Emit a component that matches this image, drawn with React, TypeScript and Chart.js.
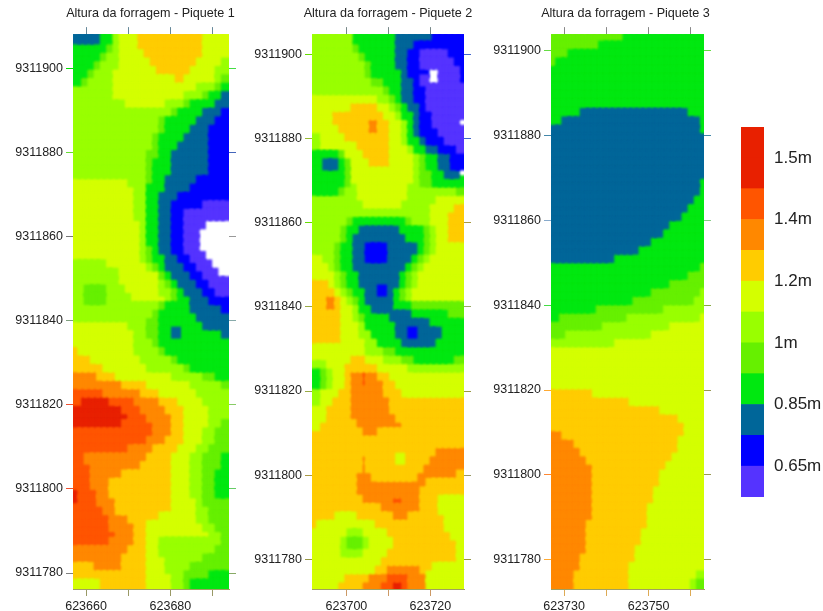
import React, { useEffect, useRef } from "react";
import { Chart, registerables } from "chart.js";

Chart.register(...registerables);

// Height classes: 0 lowest ... 9, A highest, "." = no data. Rows run north to south, run-length coded as level x count.
const levelKeys = ["0", "1", "2", "3", "4", "5", "6", "7", "8", "9", "A"];
const levelColors = ["#5533FF", "#0000FF", "#006699", "#00E810", "#66F000", "#99FF00", "#D4FF00", "#FFCC00", "#FF8800", "#FF5500", "#E82000"];

const piquete1Rows = [
  "2x4 3x2 5 6x3 7x11 6x4", "3x5 4 5 6x3 7x11 6x4", "3x4 4 5x2 6x4 7x10 6x4", "3x3 4 5x3 6x5 7x8 6x4 5",
  "3x2 4 5x3 6x7 7x6 6x4 5x2", "3 4 5x4 6x10 7x2 6x5 5 4", "5x6 6x14 5x3 4 3", "5x6 6x12 5x3 4 3x2 2",
  "5x8 6x7 5x3 4 3x4 2x2", "5x16 4 3x4 2x3 1", "5x14 4 3x5 2x3 1x2", "5x14 4 3x4 2x3 1x3",
  "5x13 4 3x4 2x4 1x3", "5x13 4 3x3 2x5 1x3", "5x12 4x2 3x2 2x6 1x3", "5x12 4 3x3 2x6 1x3",
  "5x12 4 3x3 2x6 1x3", "6x9 5x3 4 3x2 2x5 1x5", "6x10 5x2 3x3 2x4 1x6", "6x10 5x2 3x2 2x3 1x8",
  "6x10 5x2 3x2 2x2 1x5 0x4", "6x10 5x2 3x2 2x2 1x2 0x7", "6x11 5 3x2 2x2 1x2 0x3 .x4", "6x11 5 3x2 2x2 1x2 0x2 .x5",
  "6x11 5 3x2 2x2 1x2 0x2 .x5", "6x11 5 4 3 2x2 1x2 0x2 .x5", "6x11 5 4 3x2 2x2 1x2 0x2 .x4", "5x5 6x7 5 4 3 2x3 1x2 0x2 .x3",
  "5x7 6x7 4 3 2x3 1x2 0x2 .x2", "5x7 6x7 5 4 3 2x3 1x2 0x3", "5x2 4x3 5x3 6x6 5x2 4 3 2x3 1x2 0x2", "5x2 4x3 5x4 6x6 5 4 3x2 2x3 1x3",
  "5x14 4 3x4 2x5 1", "5x13 4 3x6 2x5", "6x9 5x3 4x2 3x7 2x4", "6x10 5x2 4x2 3x2 2 3x7 2",
  "6x10 5x3 4 3x11", "7 6x9 5x4 4 3x10", "7x3 6x8 5x5 4 3x8", "7x5 6x7 5x6 4 3x6",
  "8x4 7x3 6x9 5x5 4x2 3x2", "8x8 7x4 6x7 5x5 4", "9x5 8x6 7x3 6x6 5x5", "9 Ax5 9x4 8x4 7x3 6x4 5x4",
  "Ax8 9x3 8x4 7x3 6x4 5x3", "Ax9 9x3 8x4 7x2 6x4 5x3", "Ax8 9x5 8x3 7x2 6x4 5x2 4", "9x13 8x3 7x2 6x3 5x2 4x2",
  "9x12 8x3 7x3 6x3 5x2 4x2", "9x9 8x4 7x4 6x3 5x2 4x3", "9x2 8x10 7x4 6x3 5x2 4x3 3", "9x3 8x8 7x5 6x3 5x2 4x3 3",
  "9x3 8x5 7x8 6x3 5x2 4x2 3x2", "9x3 8x3 7x10 6x3 5x2 4x2 3x2", "A 9x3 8x2 7x10 6x3 5x2 4x2 3x2", "A 9x3 8x3 7x9 6x4 5 4x4",
  "9x5 8x2 7x9 6x4 5x2 4x3", "9x6 8x3 7x5 6x6 5x2 4x3", "9x6 8x4 7x2 6x9 5x2 4x2", "9x7 8x3 7x2 6x10 5x2 4",
  "9x6 8x4 7x2 6x2 5x10 4", "8x9 7x3 6x2 5x9 4x2", "8x8 7x4 6x3 5x6 4x4", "7x3 8x5 7x4 6x3 5x4 4x6",
  "7x12 6x4 5x2 4x4 3x3", "6x4 7x8 6x4 5x2 4 3x6",
];

const piquete2Rows = [
  "5x7 3x7 2x6 1x5", "5x7 4 3x6 2x3 1x8", "5x8 4 3x5 2x2 1x2 0x4 1x3", "5x9 4 3x4 2x2 1x2 0x5 1x2",
  "5x9 4 3x5 2 1x3 .x2 0x3 1", "5x10 4x2 3x3 2x2 1 0 .x2 0x3 1", "5x12 4 3x2 2x2 1x2 0x6", "6x11 5x2 4 3 2x2 1x2 0x6",
  "6x6 7x5 6x2 5 4 3 2x2 1 0x6", "6x3 7x9 6x2 5 3x2 2 1x2 0x5", "6x3 7x6 8x2 7x2 6x2 5 3 2 1x2 0x4 .", "6x4 7x5 8x2 7x2 6x2 5 3 2 1x3 0x4",
  "5 6x4 7x8 6x2 5 3x2 2 1x3 0x3", "5 6x6 7x6 6x3 5 3x2 2x2 1x3 0", "3x4 4 6x3 7x5 6x4 5 4 3x2 2x2 1x2", "3x2 2x2 3 4 6x3 7x4 6x4 5 4 3x2 2x2 1x2",
  "3x5 4 6x11 5 4x2 3x2 2x2", "3x5 4 6x11 5 4x2 3x5", "3x4 4 5x2 6x9 5x8 4", "5x7 6x9 5x4 6x5",
  "5x8 6x7 5x4 6x4 7x2", "5x19 6x3 7x3", "5x6 4 3x8 4 5x3 6x3 7x3", "5x5 4 3x2 2x6 3x4 4 5 6x2 7x3",
  "5x5 4 3 2x8 3x3 4 5 6x2 7x3", "5x4 4 3x2 2x2 1x3 2x5 3 4 5 6x5", "6x2 5x2 4 3x2 2x2 1x3 2x4 3 4 5 6x6", "6x3 5 4 3x2 2x8 3 4 5 6x7",
  "6x4 5 4 3x2 2x6 3 4 5 6x8", "7x3 6 5 4 3x2 2x6 3 4 5 6x8", "7x4 6 5 4 3x2 2x2 1 2 3 4 5 6x9", "7x2 8x2 7 6 5 4 3 2x4 3 4 5 6x9",
  "7x2 8x2 7 6x2 5 3x2 2x3 3x3 4x9", "7x5 6x2 5 4 3x4 2x3 3x6 4x3", "7x5 6x3 5 3x5 2x5 3x6", "7x5 6x3 5x2 3x4 2x2 1 2x4 3x4",
  "7x5 6x4 5x2 3x4 2x5 3x5", "6x9 5x3 4x2 3x11", "6x6 7x3 6x3 5x3 4x2 3x6 4x2", "5x2 6x3 7x6 6x5 5x9",
  "3 4 5 6x2 7 8x2 9 8x2 7x2 6x12", "3 4 5 6x2 7 8x2 9 8x3 7x2 6x11", "5 6x3 7x2 8x6 7x3 6x10", "5 6x2 7x3 8x7 7x12",
  "6x2 7x4 8x7 7x12", "6x2 7x4 8x8 7x11", "6 7x6 8x8 7x10", "7x8 8x3 7x14",
  "7x25", "7x20 8x5", "7x8 8 7x5 6 7x4 8x6", "7x8 8 7x9 8x7",
  "7x7 8x3 7x7 8x7 7", "7x7 8x12 7x6", "7x7 8x11 7x7", "7x8 8x5 9x2 8x3 7x3 6x4",
  "7x11 8x7 7x3 6x4", "7x4 6x3 7x6 8x3 7x6 6x3", "7 6x9 7x12 6x3", "6x6 5x2 6x4 7x11 6x2",
  "6x5 5 4x2 5 6x4 7x11 6", "6x5 5x3 6x4 7x12 6", "6x11 7x13 6", "6x10 7x2 8x6 7x2 6x5",
  "6x5 7x4 8x3 9x4 8x3 6x6", "6x4 7x4 8x3 9 9 A A 9 8x3 6x6",
];

const piquete3Rows = [
  "4x12 3x13", "4x8 3x17", "4x3 3x22", "4 3x24", "3x25", "3x25", "3x25", "3x25",
  "3x25", "3x5 2x17 3x3", "3x2 2x22 3", "2x24 3", "2x25", "2x25", "2x25", "2x25",
  "2x25", "2x24 3", "2x24 3", "2x23 3x2", "2x22 3x3", "2x21 3x4", "2x19 3x6", "2x18 3x7",
  "2x16 3x9", "2x14 3x11", "2x10 3x15", "3x24 4", "3x22 4x3", "3x19 4x6", "3x16 4x8 5", "3x13 4x10 5x2",
  "3x7 4x11 5x7", "3 4x11 5x12 6", "4x8 5x11 6x6", "4x2 5x14 6x9", "5x10 6x15", "6x25", "6x25", "6x25",
  "6x25", "6x25", "7x7 6x18", "7x13 6x12", "7x18 6x7", "7x21 6x4", "7x22 6x3", "8x2 7x20 6x3",
  "8x4 7x17 6x4", "8x5 7x16 6x4", "8x6 7x14 6x5", "8x7 7x12 6x6", "8x7 7x11 6x7", "8x7 7x11 6x7", "8x7 7x10 6x8", "8x7 7x10 6x8",
  "8x7 7x9 6x9", "8x7 7x9 6x9", "8x6 7x10 6x9", "8x6 7x9 6x10", "8x6 7x9 6x10", "8x6 7x8 6x11", "8x5 7x9 6x11", "8x5 7x8 6x12",
  "8x4 7x9 6x11 5", "8x4 7x9 6x10 5 4",
];

const titles = ["Altura da forragem - Piquete 1", "Altura da forragem - Piquete 2", "Altura da forragem - Piquete 3"];
const yTicks = [9311780, 9311800, 9311820, 9311840, 9311860, 9311880, 9311900];
const xTicks1 = [623660, 623670, 623680, 623690];
const xTicks2 = [623700, 623710, 623720];
const xTicks3 = [623730, 623740, 623750, 623760];
const xLabels = [623660, 623680, 623700, 623720, 623730, 623750];

const legendBands = [1, 1, 1, 1, 1, 1, 1, 1, 1, 1, 1, 1];
const legendBandLevels = [0, 1, 2, 3, 4, 5, 6, 7, 8, 9, 10, 10];
const legendTickPositions = [1, 3, 5, 7, 9, 11];
const legendTickLabels = ["0.65m", "0.85m", "1m", "1.2m", "1.4m", "1.5m"];

const FONT = "'Liberation Sans', Arial, sans-serif";

const panels = [
  {
    rows: piquete1Rows, title: titles[0], xTicks: xTicks1,
    left: 0, width: 301, axisL: 73, axisR: 72,
    xMin: 623656.9, xMax: 623693.9, yMin: 9311776.2, yMax: 9311908.2,
    tickL: ["#808080", "#F05030", "#F05030", "#80A080", "#777777", "#66DD33", "#00E000"],
    tickR: ["#88AA66", "#66CC66", "#88CC66", "#88AAAA", "#999999", "#4466BB", "#44DD44"],
    tickT: "#668899", tickB: "#999966",
  },
  {
    rows: piquete2Rows, title: titles[1], xTicks: xTicks2,
    left: 245, width: 286, axisL: 67, axisR: 67,
    xMin: 623691.8, xMax: 623728, yMin: 9311772.9, yMax: 9311904.9,
    tickL: ["#999944", "#AA9944", "#99AA44", "#99AA44", "#66DD00", "#99BB33", "#66DD00"],
    tickR: ["#999944", "#999966", "#999944", "#99AA66", "#AA9944", "#4466CC", "#4466CC"],
    tickT: "#778888", tickB: "#CC9966",
  },
  {
    rows: piquete3Rows, title: titles[2], xTicks: xTicks3,
    left: 480, width: 291, axisL: 71, axisR: 67,
    xMin: 623726.9, xMax: 623763.1, yMin: 9311773.1, yMax: 9311903.9,
    tickL: ["#FFAA33", "#FF8833", "#FFAA33", "#44DD44", "#88AACC", "#4488AA", "#66DD44"],
    tickR: ["#999955", "#999955", "#999955", "#88AA44", "#88CC88", "#4488AA", "#66DD44"],
    tickT: "#888888", tickB: "#DDAA55",
  },
];

const AREA_TOP = 34;
const AREA_BOTTOM = 589;
const PAGE_H = 611;
const BLUR = 1.3;
const GROW = 3;
const SPRITE_PAD = 5;

function decodeRow(row: string): string[] {
  const out: string[] = [];
  row.split(" ").forEach((tok) => {
    const [lv, n] = tok.split("x");
    for (let i = 0; i < (n ? Number(n) : 1); i++) out.push(lv);
  });
  return out;
}

function sprite(color: string, cellW: number, cellH: number) {
  const c = document.createElement("canvas");
  c.width = Math.ceil(cellW + GROW) + SPRITE_PAD * 2;
  c.height = Math.ceil(cellH + GROW) + SPRITE_PAD * 2;
  const g = c.getContext("2d")!;
  g.filter = `blur(${BLUR}px)`;
  g.fillStyle = color;
  g.fillRect(SPRITE_PAD, SPRITE_PAD, c.width - SPRITE_PAD * 2, c.height - SPRITE_PAD * 2);
  return c;
}

function fixSize(prop: "width" | "height", size: number) {
  return (scale: any) => {
    scale[prop] = size;
  };
}

function setTicks(values: number[]) {
  return (scale: any) => {
    scale.ticks = values.map((value) => ({ value }));
  };
}

function makePanel(canvas: HTMLCanvasElement, p: (typeof panels)[number]) {
  const nRows = p.rows.length;
  const cells = p.rows.map(decodeRow);
  const nCols = cells[0].length;
  const dx = (p.xMax - p.xMin) / nCols;
  const dy = (p.yMax - p.yMin) / nRows;
  const areaW = p.width - p.axisL - p.axisR;
  const areaH = AREA_BOTTOM - AREA_TOP;

  const datasets = levelKeys.map((key, i) => {
    const data: { x: number; y: number }[] = [];
    cells.forEach((row, r) =>
      row.forEach((lv, c) => {
        if (lv === key) data.push({ x: p.xMin + (c + 0.5) * dx, y: p.yMax - (r + 0.5) * dy });
      })
    );
    return {
      data,
      showLine: false,
      pointStyle: sprite(levelColors[i], areaW / nCols, areaH / nRows) as any,
      pointRadius: 4,
      pointHoverRadius: 4,
      clip: 0,
      order: 0,
    };
  });

  const sideAxis = (position: string, colors: string[], labels: boolean, width: number) => ({
    type: "linear",
    position,
    min: p.yMin,
    max: p.yMax,
    afterBuildTicks: setTicks(yTicks),
    afterFit: fixSize("width", width),
    border: { display: false },
    grid: { drawOnChartArea: false, tickLength: 7, tickColor: (ctx: any) => colors[ctx.index] },
    ticks: {
      display: labels,
      autoSkip: false,
      padding: 3,
      maxRotation: 0,
      color: "#222222",
      font: { family: FONT, size: 12.5 },
      callback: (v: any) => String(v),
    },
  });

  const flatAxis = (position: string, color: string, labels: boolean, height: number) => ({
    type: "linear",
    position,
    min: p.xMin,
    max: p.xMax,
    afterBuildTicks: setTicks(p.xTicks),
    afterFit: fixSize("height", height),
    border: { display: position === "bottom", color: "#A0A060" },
    grid: { drawOnChartArea: false, tickLength: 7, tickColor: color },
    ticks: {
      display: labels,
      autoSkip: false,
      padding: 3,
      maxRotation: 0,
      color: "#222222",
      font: { family: FONT, size: 12.5 },
      callback: (v: any) => (xLabels.includes(Number(v)) ? String(v) : ""),
    },
  });

  return new Chart(canvas, {
    type: "scatter",
    data: { datasets },
    options: {
      responsive: false,
      animation: false,
      events: [],
      layout: { padding: 0 },
      plugins: {
        legend: { display: false },
        tooltip: { enabled: false },
        title: {
          display: true,
          text: p.title,
          color: "#222222",
          font: { family: FONT, size: 12.6, weight: "normal", lineHeight: 1.2 },
          padding: { top: 6, bottom: 6 },
        },
      },
      scales: {
        x: flatAxis("bottom", p.tickB, true, PAGE_H - AREA_BOTTOM),
        xTop: flatAxis("top", p.tickT, false, 7),
        y: sideAxis("left", p.tickL, true, p.axisL),
        yRight: sideAxis("right", p.tickR, false, p.axisR),
      },
    } as any,
  });
}

function makeLegend(canvas: HTMLCanvasElement) {
  return new Chart(canvas, {
    type: "bar",
    data: {
      labels: ["altura"],
      datasets: legendBands.map((v, i) => ({
        data: [v],
        backgroundColor: levelColors[legendBandLevels[i]],
        borderWidth: 0,
        barPercentage: 1,
        categoryPercentage: 1,
        stack: "bar",
      })),
    },
    options: {
      responsive: false,
      animation: false,
      events: [],
      layout: { padding: { left: 21, top: 17, bottom: 13, right: 0 } },
      plugins: { legend: { display: false }, tooltip: { enabled: false } },
      scales: {
        x: { display: false, stacked: true },
        y: {
          position: "right",
          stacked: true,
          min: 0,
          max: legendBands.length,
          afterBuildTicks: setTicks(legendTickPositions),
          afterFit: (scale: any) => {
            scale.width = 59;
            scale.paddingTop = 0;
            scale.paddingBottom = 0;
          },
          border: { display: false },
          grid: { display: false, drawTicks: false },
          ticks: {
            autoSkip: false,
            padding: 10,
            color: "#222222",
            font: { family: FONT, size: 17 },
            callback: (v: any) => legendTickLabels[legendTickPositions.indexOf(Number(v))],
          },
        },
      },
    } as any,
  });
}

export default function App() {
  const refs = useRef<(HTMLCanvasElement | null)[]>([]);
  const legendRef = useRef<HTMLCanvasElement | null>(null);

  useEffect(() => {
    const charts = panels.map((p, i) => makePanel(refs.current[i]!, p));
    charts.push(makeLegend(legendRef.current!));
    return () => charts.forEach((c) => c.destroy());
  }, []);

  return (
    <div style={{ position: "absolute", left: 0, top: 0, width: 823, height: PAGE_H, overflow: "hidden", background: "#fff" }}>
      {panels.map((p, i) => (
        <canvas
          key={p.title}
          ref={(el) => {
            refs.current[i] = el;
          }}
          width={p.width}
          height={PAGE_H}
          style={{ position: "absolute", left: p.left, top: 0, width: p.width, height: PAGE_H, display: "block" }}
        />
      ))}
      <canvas
        ref={legendRef}
        width={103}
        height={400}
        style={{ position: "absolute", left: 720, top: 110, width: 103, height: 400, display: "block" }}
      />
    </div>
  );
}
